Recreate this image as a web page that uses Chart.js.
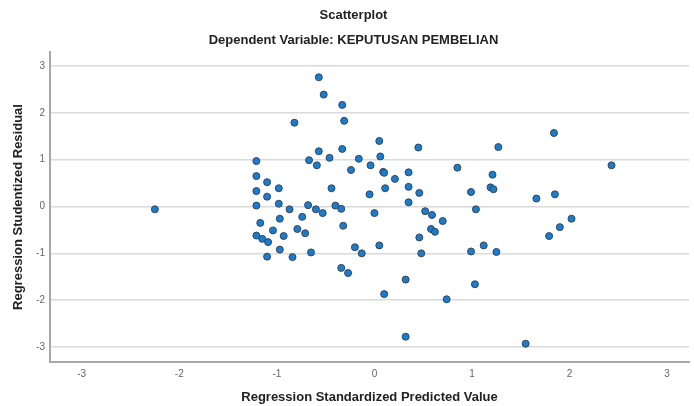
<!DOCTYPE html>
<html>
<head>
<meta charset="utf-8">
<title>Scatterplot</title>
<script src="https://cdn.jsdelivr.net/npm/chart.js@4.4.1/dist/chart.umd.min.js"></script>
<style>
    html, body { margin: 0; padding: 0; background: #fff; }
    #wrap { width: 694px; height: 406px; }
</style>
</head>
<body>
<div id="wrap"><canvas id="scatter-chart" width="694" height="406"></canvas></div>
<script>
// Values
const predicted = [
    -0.57, -0.52, -0.33, -0.31, -0.82, 0.05, -0.57, -0.33, 0.06, -1.21,
    -0.67, -0.46, -0.16, -0.59, -0.24, -0.04, 0.09, 0.10, 0.21, -1.21,
    -1.10, -0.98, -1.21, -1.10, -0.44, -0.05, 0.11,
    -1.21, -0.98, -0.87, -0.68, -0.60, -0.53, -0.40, -0.34, 0.00, -1.17,
    -0.97, -0.74, -0.32, -1.04, -0.79, -0.71, -1.21, -1.15, -1.09, -0.93,
    -0.97, -0.65, -1.10, -0.84, -0.20, -0.13, 0.05, -0.34, -0.27, 0.10,
    0.45, 1.27, 1.84, 2.43, 0.85, 1.21, 0.35, 0.35, 0.46, 0.99,
    1.19, 1.22, 1.66, 1.85, 0.35,
    0.52, 0.59, 1.04, 0.70, 0.58, 0.62, 2.02, 1.90, 1.79, 0.46,
    0.48, 0.99, 1.12, 1.25, 0.32, 1.03, 0.74, 0.32, 1.55,
    -2.25
];
const residual = [
    2.76, 2.39, 2.17, 1.83, 1.79, 1.40, 1.18, 1.23, 1.07, 0.97,
    0.99, 1.04, 1.02, 0.88, 0.78, 0.88, 0.74, 0.72, 0.59, 0.65,
    0.52, 0.39, 0.33, 0.21, 0.39, 0.26, 0.39,
    0.02, 0.06, -0.06, 0.03, -0.06, -0.14, 0.02, -0.05, -0.14, -0.35,
    -0.26, -0.22, -0.41, -0.51, -0.48, -0.57, -0.62, -0.69, -0.76, -0.63,
    -0.92, -0.98, -1.07, -1.08, -0.87, -1.00, -0.83, -1.31, -1.42, -1.87,
    1.26, 1.27, 1.57, 0.88, 0.83, 0.68, 0.73, 0.42, 0.29, 0.31,
    0.41, 0.37, 0.17, 0.26, 0.09,
    -0.10, -0.18, -0.06, -0.31, -0.48, -0.54, -0.26, -0.44, -0.63, -0.66,
    -1.00, -0.96, -0.83, -0.97, -1.56, -1.66, -1.98, -2.78, -2.93,
    -0.06
];
const tickValues = [-3, -2, -1, 0, 1, 2, 3];

const points = predicted.map((x, i) => ({ x: x, y: residual[i] }));

Chart.defaults.font.family = "'Liberation Sans', Arial, sans-serif";
Chart.defaults.color = '#555';

const ctx = document.getElementById('scatter-chart').getContext('2d');
new Chart(ctx, {
    type: 'scatter',
    data: {
        datasets: [{
            data: points,
            backgroundColor: '#1b7bcc',
            borderColor: '#33475c',
            borderWidth: 1,
            pointRadius: 3.5
        }]
    },
    options: {
        responsive: false,
        animation: false,
        // left padding nudges the centred titles right, y axis width makes up for it
        layout: { padding: { left: 14, right: 1, top: 0, bottom: 0 } },
        plugins: {
            legend: { display: false },
            tooltip: { enabled: false },
            title: {
                display: true,
                text: 'Scatterplot',
                color: '#222',
                font: { size: 13, weight: 'bold' },
                padding: { top: 8, bottom: 6.5 }
            },
            subtitle: {
                display: true,
                text: 'Dependent Variable: KEPUTUSAN PEMBELIAN',
                color: '#222',
                font: { size: 13, weight: 'bold' },
                padding: { top: 2.6, bottom: 3.7 }
            }
        },
        scales: {
            x: {
                type: 'linear',
                min: -3.325,
                max: 3.224,
                afterFit: (scale) => { scale.height = 44; },
                afterBuildTicks: (scale) => { scale.ticks = tickValues.map(v => ({ value: v })); },
                grid: { display: false, drawTicks: false },
                border: { display: true, color: '#a8a8a8', width: 2 },
                ticks: { padding: 6, color: '#666', font: { size: 10 } },
                title: {
                    display: true,
                    text: 'Regression Standardized Predicted Value',
                    color: '#222',
                    font: { size: 13, weight: 'bold' },
                    padding: { top: 0, bottom: 0.5 }
                }
            },
            y: {
                type: 'linear',
                min: -3.32,
                max: 3.30,
                afterFit: (scale) => { scale.width = 36; },
                afterBuildTicks: (scale) => { scale.ticks = tickValues.map(v => ({ value: v })); },
                grid: { color: '#dadada', lineWidth: 1.5, drawTicks: false },
                border: { display: true, color: '#a8a8a8', width: 2 },
                ticks: { padding: 5, color: '#666', font: { size: 10 } },
                title: {
                    display: true,
                    text: 'Regression Studentized Residual',
                    color: '#222',
                    font: { size: 13, weight: 'bold' },
                    padding: { top: -3.8, bottom: 0 }
                }
            }
        }
    }
});
</script>
</body>
</html>
